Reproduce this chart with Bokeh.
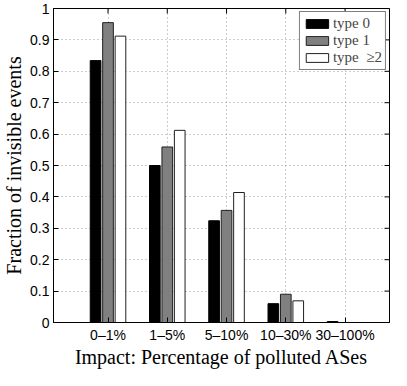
import math
from bokeh.plotting import figure
from bokeh.models import (ColumnDataSource, Range1d, FixedTicker, Legend, LegendItem)
from bokeh.transform import dodge
from bokeh.embed import file_html
from bokeh.resources import INLINE

# ---- data ----
categories = ["0–1%", "1–5%", "5–10%", "10–30%", "30–100%"]
cat_pos = [1, 2, 3, 4, 5]
type0 = [0.834, 0.500, 0.324, 0.060, 0.003]
type1 = [0.955, 0.559, 0.357, 0.090, 0.000]
type2 = [0.912, 0.612, 0.414, 0.069, 0.000]
series_names = ["type 0", "type 1", "type  \u22652"]
y_ticks = [0, 0.1, 0.2, 0.3, 0.4, 0.5, 0.6, 0.7, 0.8, 0.9, 1.0]
y_tick_labels = ["0", "0.1", "0.2", "0.3", "0.4", "0.5", "0.6", "0.7", "0.8", "0.9", "1"]

src = ColumnDataSource(dict(x=cat_pos, t0=type0, t1=type1, t2=type2))

SERIF = "Liberation Serif"
SANS = "Liberation Sans"

xr = Range1d(0.08, 5.75)
yr = Range1d(0, 1)
p = figure(width=391, height=370, output_backend="svg", toolbar_location=None,
           x_range=xr, y_range=yr,
           min_border_left=2, min_border_right=2, min_border_top=8, min_border_bottom=1)
p.background_fill_color = "white"
p.border_fill_color = "white"
p.outline_line_color = "black"
p.outline_line_width = 1

# grid
for g in (p.xgrid[0], p.ygrid[0]):
    g.grid_line_color = "#9a9a9a"
    g.grid_line_dash = "1 3"
    g.grid_line_width = 1
p.xgrid[0].ticker = FixedTicker(ticks=cat_pos)
p.ygrid[0].ticker = FixedTicker(ticks=y_ticks)

bw = 0.18
r0 = p.vbar(x=dodge("x", -0.21, range=p.x_range), top="t0", width=bw, source=src,
            fill_color="#000000", line_color="#000000", line_width=1)
r1 = p.vbar(x=dodge("x", 0.0, range=p.x_range), top="t1", width=bw, source=src,
            fill_color="#808080", line_color="#202020", line_width=1)
r2 = p.vbar(x=dodge("x", 0.21, range=p.x_range), top="t2", width=bw, source=src,
            fill_color="#ffffff", line_color="#202020", line_width=1)

# mirrored inward ticks on top and right edges (clipped to the frame)
p.scatter(x=cat_pos, y=[yr.end] * len(cat_pos), marker="dash", angle=math.pi / 2,
          size=10, line_color="black", line_width=1)
p.scatter(x=[xr.end] * len(y_ticks), y=y_ticks, marker="dash",
          size=10, line_color="black", line_width=1)

# axes
xa = p.xaxis[0]
xa.ticker = FixedTicker(ticks=cat_pos)
xa.major_label_overrides = {c: l for c, l in zip(cat_pos, categories)}
xa.axis_label = "Impact: Percentage of polluted ASes"
ya = p.yaxis[0]
ya.ticker = FixedTicker(ticks=y_ticks)
ya.major_label_overrides = {t: l for t, l in zip(y_ticks, y_tick_labels)}
ya.axis_label = "Fraction of invisible events"

for ax in (xa, ya):
    ax.major_tick_in = 5
    ax.major_tick_out = 0
    ax.minor_tick_line_color = None
    ax.major_label_text_font = SANS
    ax.major_label_text_font_size = "14px"
    ax.major_label_text_color = "black"
    ax.axis_label_text_font = SERIF
    ax.axis_label_text_font_size = "20px"
    ax.axis_label_text_font_style = "normal"
    ax.axis_label_text_color = "black"
    ax.axis_line_color = "black"
    ax.major_tick_line_color = "black"
xa.major_label_standoff = 4
xa.axis_label_standoff = 0
ya.major_label_standoff = 4
ya.axis_label_standoff = 2

legend = Legend(items=[LegendItem(label=series_names[0], renderers=[r0]),
                       LegendItem(label=series_names[1], renderers=[r1]),
                       LegendItem(label=series_names[2], renderers=[r2])],
                location="top_right")
legend.label_text_font = SERIF
legend.label_text_font_size = "15px"
legend.label_height = 14
legend.glyph_height = 11
legend.glyph_width = 28
legend.spacing = 0
legend.padding = 3
legend.margin = 3
legend.label_standoff = 2
legend.border_line_color = "black"
legend.border_line_width = 1
legend.background_fill_color = "white"
legend.background_fill_alpha = 1
p.add_layout(legend)

open("out.html", "w").write(file_html(p, INLINE))
